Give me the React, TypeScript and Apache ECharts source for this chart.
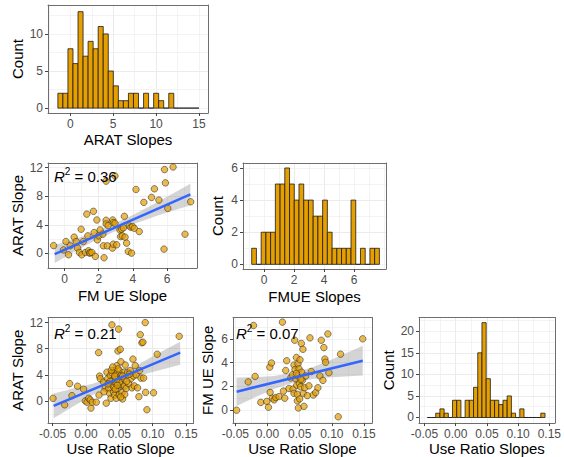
import React, { useEffect, useRef } from "react";
import * as echarts from "echarts";

// ---------- data ----------
// Histogram: ARAT slopes
const aratHistStart = -1.45;
const aratHistEnd = 15.0;
const aratHistCounts = [2, 2, 8, 6, 13, 7, 9, 8, 11, 10, 5, 3, 1, 1, 2, 2, 0, 2, 0, 2, 1, 0, 2, 0, 0, 0, 0, 0];

// Histogram: FMUE slopes
const fmueHistStart = -0.82;
const fmueHistEnd = 7.69;
const fmueHistCounts = [1, 0, 2, 2, 2, 5, 5, 6, 5, 4, 5, 4, 4, 3, 3, 4, 2, 1, 1, 1, 1, 4, 0, 1, 0, 1, 1];

// Histogram: Use Ratio slopes
const urHistStart = -0.0455;
const urHistEnd = 0.1431;
const urHistCounts = [0, 0, 1, 2, 1, 0, 4, 4, 0, 4, 4, 7, 15, 22, 9, 4, 4, 3, 4, 5, 1, 0, 2, 0, 0, 0, 0, 1];

// Scatter: FM UE slope (x) vs ARAT slope (y)
const fmVsArat: [number, number][] = [
  [-0.64, 1.1], [-0.06, 0.5], [0.08, 1.67], [0.23, -0.18], [0.33, 1.07], [0.56, 2.28], [0.68, 1.67], [0.76, 0.75],
  [0.87, 0.14], [0.97, 3.39], [1.01, -0.18], [1.1, 1.67], [1.22, 0.14], [1.3, 5.5], [1.36, 2.46], [1.4, 0.38],
  [1.46, 0.05], [1.5, 0.1], [1.6, 0.14], [1.69, 5.89], [1.73, 2.92], [1.8, -0.41], [1.89, 4.68], [1.92, 1.9],
  [2.0, 2.46], [2.08, 3.29], [2.24, 2.69], [2.27, 1.07], [2.31, -0.6], [2.43, 4.64], [2.43, 4.12], [2.43, 10.1],
  [2.5, 1.07], [2.55, 3.9], [2.8, 0.75], [2.82, 4.68], [2.85, 4.31], [2.85, 1.3], [2.95, 4.22], [2.95, 10.83],
  [3.05, 1.21], [3.24, 3.29], [3.28, 2.36], [3.34, 3.39], [3.38, 2.46], [3.44, 3.57], [3.5, 5.19], [3.54, 2.28],
  [3.63, 1.44], [3.73, 0.28], [3.79, 3.85], [3.88, 3.66], [3.92, 0.05], [3.98, 3.75], [4.08, 3.52], [4.18, 8.94],
  [4.37, 3.06], [4.64, 7.14], [5.09, 7.83], [5.26, 9.03], [5.52, 7.46], [5.82, 0.61], [5.85, 11.72], [5.9, 9.86],
  [6.04, 6.3], [6.35, 12.08], [7.05, 2.69], [7.38, 7.22],
];
const fmVsAratFit: [number, number][] = [[-0.58, -0.08], [7.36, 8.25]];
const fmVsAratBandX = [-0.58, 0.5, 1.5, 2.8, 4, 5.5, 7.36];
const fmVsAratBandLo = [-1.33, 0.15, 1.45, 2.92, 4.08, 5.35, 6.75];
const fmVsAratBandHi = [1.17, 1.95, 2.75, 4.02, 5.38, 7.25, 9.75];
const fmVsAratR2 = "0.36";

// Scatter: Use Ratio slope (x) vs ARAT slope (y)
const urVsArat: [number, number][] = [
  [-0.0494, 0.4], [-0.032, -0.6], [-0.0245, 2.65], [-0.021, 0.8], [-0.0126, 2.25], [-0.0036, 1.8], [-0.001, 0.0],
  [0.0015, -0.2], [0.004, 0.4], [0.0064, 0.15], [0.0075, -1.1], [0.0094, -0.2], [0.0154, -0.2], [0.0189, 7.4],
  [0.0195, 0.9], [0.0204, 3.8], [0.0214, 3.4], [0.0264, 2.9], [0.0289, 2.0], [0.0304, -0.35], [0.0314, 4.4],
  [0.0324, 3.4], [0.0339, 1.9], [0.0354, 1.15], [0.0364, 3.9], [0.0374, 0.4], [0.0389, 11.65], [0.0389, 4.3],
  [0.0399, 3.15], [0.0404, 2.3], [0.0413, 1.4], [0.0424, 4.65], [0.0428, 0.9], [0.0439, 3.65], [0.0449, 2.65],
  [0.0454, 0.4], [0.0464, 5.4], [0.0464, 4.15], [0.0473, 1.9], [0.0479, 7.65], [0.0488, 11.0], [0.0488, 3.4],
  [0.0499, 0.9], [0.0503, 4.65], [0.0514, 7.9], [0.0514, 2.3], [0.0524, 6.0], [0.0528, 3.9], [0.0539, 2.5],
  [0.0539, 1.25], [0.0548, 0.3], [0.0563, 3.4], [0.0573, 4.4], [0.0578, 2.25], [0.0588, 5.5], [0.0603, 1.9],
  [0.0623, 4.4], [0.0638, 2.65], [0.0663, 4.65], [0.0674, 3.4], [0.0689, 2.0], [0.0704, 6.4], [0.0713, 3.8],
  [0.0723, 2.3], [0.0738, 5.4], [0.0753, 4.0], [0.0773, 2.0], [0.0793, 0.65], [0.0803, 4.65], [0.0813, 10.15],
  [0.0823, 3.5], [0.0838, 8.9], [0.0853, 9.0], [0.0863, 3.5], [0.0888, 12.0], [0.0893, 1.3], [0.0913, -1.35],
  [0.1012, 1.25], [0.1067, 7.15], [0.1397, 9.9],
  [0.036, 3.0], [0.042, 2.0], [0.048, 4.9], [0.044, 1.8], [0.055, 3.8], [0.038, 4.7], [0.05, 2.9], [0.058, 1.0],
  [0.033, 2.6], [0.046, 3.3], [0.052, 0.6], [0.061, 3.0], [0.027, 1.4], [0.065, 4.1], [0.04, 5.2], [0.047, 2.4],
  [0.043, 3.8],
];
const urVsAratFit: [number, number][] = [[-0.0485, -0.75], [0.1412, 7.4]];
const urVsAratBandX = [-0.0485, -0.02, 0.01, 0.04, 0.07, 0.1, 0.1412];
const urVsAratBandLo = [-2.65, -0.91, 0.89, 2.49, 3.61, 4.43, 5.55];
const urVsAratBandHi = [1.15, 1.85, 2.63, 3.61, 5.07, 6.83, 9.05];
const urVsAratR2 = "0.21";

// Scatter: Use Ratio slope (x) vs FM UE slope (y)
const urVsFm: [number, number][] = [
  [-0.048, 0.0], [-0.03, 2.38], [-0.0192, 2.84], [-0.0104, 0.66], [-0.0011, 0.74], [0.0015, 0.25], [0.0036, 3.62],
  [0.0062, 3.97], [0.0041, 1.5], [0.0077, 1.01], [0.0103, 0.87], [0.0129, 1.07], [0.018, 1.15], [0.0232, 7.4],
  [0.0248, 1.61], [0.0268, 1.01], [0.0283, 3.34], [0.0299, 4.16], [0.0335, 1.83], [0.0361, 2.71], [0.0387, 2.98],
  [0.0397, 1.77], [0.0412, 1.42], [0.0412, 3.8], [0.0423, 5.88], [0.0428, 3.42], [0.0438, 2.65], [0.0449, 4.43],
  [0.0454, 2.1], [0.0464, 1.34], [0.0464, 0.79], [0.0474, 3.89], [0.0474, 2.88], [0.048, 0.19], [0.049, 3.48],
  [0.0495, 2.24], [0.05, 0.95], [0.0505, 4.24], [0.0515, 1.97], [0.0526, 5.61], [0.0531, 3.2], [0.0542, 2.51],
  [0.0551, 5.12], [0.0557, 1.42], [0.0567, 0.33], [0.0577, 1.89], [0.0593, 2.88], [0.0619, 1.23], [0.0644, 2.05],
  [0.066, 6.08], [0.0681, 3.25], [0.0712, 1.28], [0.0748, 1.48], [0.0783, 1.89], [0.0814, 2.88], [0.0836, 5.88],
  [0.0861, 2.51], [0.0876, 5.26], [0.0892, 4.3], [0.0903, 4.03], [0.0938, 6.41], [0.0954, 3.15], [0.1099, -0.55],
  [0.1135, 4.71], [0.148, 6.0], [-0.0217, 7.12], [0.045, 3.1], [0.052, 2.6],
];
const urVsFmFit: [number, number][] = [[-0.048, 1.56], [0.148, 4.16]];
const urVsFmBandX = [-0.048, -0.02, 0.01, 0.04, 0.07, 0.1, 0.148];
const urVsFmBandLo = [0.36, 1.08, 1.78, 2.31, 2.62, 2.77, 2.91];
const urVsFmBandHi = [2.76, 2.78, 2.88, 3.15, 3.62, 4.27, 5.41];
const urVsFmR2 = "0.07";

// Tick labels
const aratHistXTicks = [0, 5, 10, 15];
const aratHistYTicks = [0, 5, 10];
const fmTicks = [0, 2, 4, 6];
const aratTicks = [0, 4, 8, 12];
const fmueHistYTicks = [0, 2, 4, 6];
const urTicks = [-0.05, 0, 0.05, 0.1, 0.15];
const urHistYTicks = [0, 5, 10, 15, 20];

// ---------- styling ----------
const FONT = '"Liberation Sans", Arial, Helvetica, sans-serif';
const ORANGE = "#E69F00";
const BORDER = "#6e6e6e";
const GRID_MAJOR = "#E3E3E3";
const GRID_MINOR = "#EEEEEE";

type AxisSpec = {
  min: number; max: number; major: number; ticks: number[]; fmt: (v: number) => string;
  name: string; nameGap: number;
};

function primaryAxis(gi: number, dim: "x" | "y", s: AxisSpec) {
  const isTick = (v: number) => s.ticks.some((t) => Math.abs(t - v) < 1e-9);
  return {
    gridIndex: gi, type: "value", min: s.min, max: s.max,
    minInterval: s.major, maxInterval: s.major,
    position: dim === "x" ? "bottom" : "left",
    name: s.name, nameLocation: "middle", nameGap: s.nameGap,
    nameTextStyle: { color: "#000", fontSize: 15, fontFamily: FONT },
    axisLine: { show: true, onZero: false, lineStyle: { color: BORDER, width: 1 } },
    axisTick: { show: true, length: 3, lineStyle: { color: "#444", width: 1 }, customValues: s.ticks },
    axisLabel: {
      show: true, customValues: s.ticks, color: "#4D4D4D", fontSize: 12, fontFamily: FONT,
      margin: dim === "x" ? 5 : 5,
      formatter: (v: number) => (isTick(v) ? s.fmt(v) : ""),
    },
    splitLine: { show: true, showMinLine: false, showMaxLine: false, lineStyle: { color: GRID_MAJOR, width: 1 } },
  };
}

function secondaryAxis(gi: number, dim: "x" | "y", s: AxisSpec) {
  return {
    gridIndex: gi, type: "value", min: s.min, max: s.max,
    minInterval: s.major / 2, maxInterval: s.major / 2,
    position: dim === "x" ? "top" : "right",
    axisLine: { show: true, onZero: false, lineStyle: { color: BORDER, width: 1 } },
    axisTick: { show: false }, axisLabel: { show: false },
    splitLine: { show: true, showMinLine: false, showMaxLine: false, lineStyle: { color: GRID_MINOR, width: 0.7 } },
  };
}

function histSeries(gi: number, start: number, end: number, counts: number[]) {
  const w = (end - start) / counts.length;
  const data = counts.map((c, i) => [start + i * w, start + (i + 1) * w, c]);
  return {
    type: "custom", xAxisIndex: gi, yAxisIndex: gi, data, z: 3,
    encode: { x: [0, 1], y: 2 },
    renderItem: (_p: any, api: any) => {
      const p0 = api.coord([api.value(0), api.value(2)]);
      const p1 = api.coord([api.value(1), 0]);
      return {
        type: "rect",
        shape: { x: p0[0], y: p0[1], width: p1[0] - p0[0], height: p1[1] - p0[1] },
        style: { fill: ORANGE, stroke: "#1a1a1a", lineWidth: 0.8 },
      };
    },
  };
}

function bandSeries(gi: number, xs: number[], lo: number[], hi: number[]) {
  return {
    type: "custom", xAxisIndex: gi, yAxisIndex: gi, data: [[xs[0], lo[0]]], silent: true, z: 2,
    renderItem: (_p: any, api: any) => {
      const pts: number[][] = [];
      xs.forEach((x, i) => pts.push(api.coord([x, hi[i]])));
      for (let i = xs.length - 1; i >= 0; i--) pts.push(api.coord([xs[i], lo[i]]));
      return { type: "polygon", shape: { points: pts }, style: { fill: "rgba(153,153,153,0.42)" } };
    },
  };
}

function scatterSeries(gi: number, data: [number, number][]) {
  return {
    type: "scatter", xAxisIndex: gi, yAxisIndex: gi, data, symbolSize: 6.5, z: 4,
    itemStyle: { color: "rgba(230,159,0,0.88)", borderColor: "#2b2b2b", borderWidth: 0.7 },
  };
}

function fitSeries(gi: number, data: [number, number][]) {
  return {
    type: "line", xAxisIndex: gi, yAxisIndex: gi, data, showSymbol: false, z: 5,
    lineStyle: { color: "#3366FF", width: 2.5 }, silent: true,
  };
}

function r2Text(x: number, y: number, value: string) {
  return {
    type: "text", x, y, z: 10,
    style: {
      text: `{i|R}{s|2}{n| = ${value}}`,
      verticalAlign: "middle",
      fill: "#000",
      rich: {
        i: { fontStyle: "italic", fontSize: 15, fontFamily: FONT, fill: "#000", lineHeight: 20 },
        s: { fontSize: 10, fontFamily: FONT, fill: "#000", verticalAlign: "top", lineHeight: 12 },
        n: { fontSize: 15, fontFamily: FONT, fill: "#000", lineHeight: 20 },
      },
    },
  };
}

const intFmt = (v: number) => String(Math.round(v));
const urFmt = (v: number) => v.toFixed(2);

export default function App() {
  const ref = useRef<HTMLDivElement>(null);
  useEffect(() => {
    if (!ref.current) return;
    const chart = echarts.init(ref.current, null, { renderer: "svg" });

    const grids = [
      { left: 48, top: 5, width: 160, height: 108 },
      { left: 48, top: 163, width: 149, height: 105 },
      { left: 243, top: 163, width: 143, height: 106 },
      { left: 48, top: 317.5, width: 145.5, height: 108 },
      { left: 233, top: 317.5, width: 139, height: 108 },
      { left: 419, top: 317.5, width: 141.5, height: 108 },
    ];

    const xs: AxisSpec[] = [
      { min: -2.6, max: 16.05, major: 5, ticks: aratHistXTicks, fmt: intFmt, name: "ARAT Slopes", nameGap: 19 },
      { min: -0.97, max: 7.75, major: 2, ticks: fmTicks, fmt: intFmt, name: "FM UE Slope", nameGap: 20 },
      { min: -1.4, max: 8.13, major: 2, ticks: fmTicks, fmt: intFmt, name: "FMUE Slopes", nameGap: 20 },
      { min: -0.0569, max: 0.1611, major: 0.05, ticks: urTicks, fmt: urFmt, name: "Use Ratio Slope", nameGap: 15 },
      { min: -0.0536, max: 0.1624, major: 0.05, ticks: urTicks, fmt: urFmt, name: "Use Ratio Slope", nameGap: 15 },
      { min: -0.0588, max: 0.1587, major: 0.05, ticks: urTicks, fmt: urFmt, name: "Use Ratio Slopes", nameGap: 15 },
    ];
    const ys: AxisSpec[] = [
      { min: -0.66, max: 13.9, major: 5, ticks: aratHistYTicks, fmt: intFmt, name: "Count", nameGap: 23 },
      { min: -2.03, max: 12.64, major: 4, ticks: aratTicks, fmt: intFmt, name: "ARAT Slope", nameGap: 23 },
      { min: -0.29, max: 6.31, major: 2, ticks: fmueHistYTicks, fmt: intFmt, name: "Count", nameGap: 18 },
      { min: -3.4, max: 12.78, major: 4, ticks: aratTicks, fmt: intFmt, name: "ARAT Slope", nameGap: 23 },
      { min: -1.08, max: 7.79, major: 2, ticks: fmTicks, fmt: intFmt, name: "FM UE Slope", nameGap: 18 },
      { min: -1.3, max: 23.2, major: 5, ticks: urHistYTicks, fmt: intFmt, name: "Count", nameGap: 23 },
    ];

    const xAxis: any[] = [];
    const yAxis: any[] = [];
    xs.forEach((s, i) => xAxis.push(primaryAxis(i, "x", s)));
    xs.forEach((s, i) => xAxis.push(secondaryAxis(i, "x", s)));
    ys.forEach((s, i) => yAxis.push(primaryAxis(i, "y", s)));
    ys.forEach((s, i) => yAxis.push(secondaryAxis(i, "y", s)));

    const series: any[] = [
      histSeries(0, aratHistStart, aratHistEnd, aratHistCounts),
      bandSeries(1, fmVsAratBandX, fmVsAratBandLo, fmVsAratBandHi),
      scatterSeries(1, fmVsArat),
      fitSeries(1, fmVsAratFit),
      histSeries(2, fmueHistStart, fmueHistEnd, fmueHistCounts),
      bandSeries(3, urVsAratBandX, urVsAratBandLo, urVsAratBandHi),
      scatterSeries(3, urVsArat),
      fitSeries(3, urVsAratFit),
      bandSeries(4, urVsFmBandX, urVsFmBandLo, urVsFmBandHi),
      scatterSeries(4, urVsFm),
      fitSeries(4, urVsFmFit),
      histSeries(5, urHistStart, urHistEnd, urHistCounts),
    ];

    chart.setOption({
      animation: false,
      backgroundColor: "#fff",
      textStyle: { fontFamily: FONT },
      grid: grids.map((g) => ({ ...g, containLabel: false, show: false })),
      xAxis,
      yAxis,
      series,
      graphic: [
        r2Text(54, 176, fmVsAratR2),
        r2Text(54, 333, urVsAratR2),
        r2Text(236, 333, urVsFmR2),
      ],
    });
    return () => chart.dispose();
  }, []);

  return (
    <div
      ref={ref}
      style={{ position: "absolute", left: 0, top: 0, width: 564, height: 457, background: "#fff" }}
    />
  );
}
